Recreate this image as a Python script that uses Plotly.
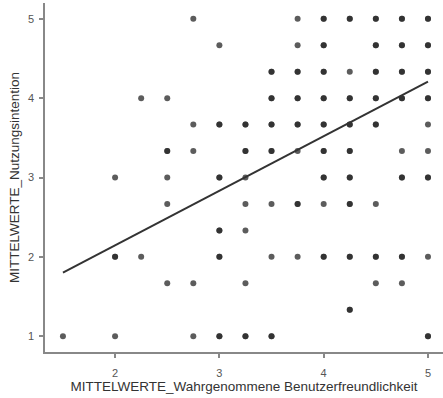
import plotly.graph_objects as go

# Points: (x, y, n) with n = overlapping responses (darker = more)
pt_x = [2.75, 3.75, 4, 4.25, 4.5, 4.75, 5,
        3, 3.75, 4, 4.5, 4.75, 5,
        3.5, 3.75, 4, 4.25, 4.5, 4.75, 5,
        2.25, 2.5, 3.5, 3.75, 4, 4.25, 4.5, 4.75, 5,
        2.75, 3, 3.25, 3.5, 3.75, 4, 4.25, 4.5, 5,
        2.5, 2.75, 3.25, 3.5, 3.75, 4, 4.25, 4.75, 5,
        2, 2.5, 3, 3.25, 4, 4.25, 4.75, 5,
        2.5, 3.25, 3.5, 3.75, 4, 4.25, 4.5,
        3, 3.25,
        2, 2.25, 3, 3.5, 3.75, 4, 4.25, 4.5, 4.75, 5,
        2.5, 2.75, 3.25, 4.5, 4.75,
        4.25,
        1.5, 2, 2.75, 3, 3.25, 3.5, 5]
pt_y = [5] * 7 + [14 / 3] * 6 + [13 / 3] * 7 + [4] * 9 + [11 / 3] * 9 + [10 / 3] * 9 + \
       [3] * 8 + [8 / 3] * 7 + [7 / 3] * 2 + [2] * 10 + [5 / 3] * 5 + [4 / 3] * 1 + [1] * 7
pt_n = [1, 1, 2, 2, 2, 2, 2,
        1, 1, 2, 2, 2, 2,
        2, 2, 2, 1, 2, 2, 2,
        1, 1, 2, 2, 2, 2, 2, 2, 2,
        1, 2, 2, 2, 2, 2, 2, 2, 1,
        2, 1, 2, 2, 1, 2, 2, 1, 1,
        1, 1, 2, 1, 2, 2, 2, 2,
        1, 1, 1, 2, 1, 2, 1,
        2, 1,
        2, 1, 2, 1, 1, 2, 2, 2, 2, 1,
        1, 1, 1, 1, 1,
        2,
        1, 1, 1, 2, 2, 2, 2]

# Regression line endpoints
line_x = [1.5, 5]
line_y = [1.80, 4.21]

x_ticks = [2, 3, 4, 5]
y_ticks = [1, 2, 3, 4, 5]

xs, ys = [], []
for x, y, n in zip(pt_x, pt_y, pt_n):
    xs += [x] * n
    ys += [y] * n

font = "Liberation Sans, Arial, Helvetica, sans-serif"

fig = go.Figure()
fig.add_trace(go.Scatter(x=xs, y=ys, mode="markers",
                         marker=dict(color="#262626", size=6, opacity=0.75, line=dict(width=0)),
                         hoverinfo="skip", showlegend=False))
fig.add_trace(go.Scatter(x=line_x, y=line_y, mode="lines",
                         line=dict(color="#333333", width=2), showlegend=False))

fig.update_layout(
    width=443, height=398,
    margin=dict(l=45, r=0, t=3, b=46),
    plot_bgcolor="white", paper_bgcolor="white",
    font=dict(family=font, color="#333333"),
    xaxis=dict(range=[1.328, 5.144], tickvals=x_ticks, showgrid=False, zeroline=False,
               showline=True, linecolor="#888888", linewidth=1.5,
               ticks="outside", ticklen=4, tickcolor="#888888", tickwidth=1.5,
               ticklabelstandoff=6,
               tickfont=dict(size=11, color="#555555"),
               title=dict(text="MITTELWERTE_Wahrgenommene Benutzerfreundlichkeit",
                          font=dict(size=13.5, color="#333333"), standoff=3)),
    yaxis=dict(range=[0.8, 5.2], tickvals=y_ticks, showgrid=False, zeroline=False,
               showline=True, linecolor="#888888", linewidth=1.5,
               ticks="outside", ticklen=4, tickcolor="#888888", tickwidth=1.5,
               ticklabelstandoff=3,
               tickfont=dict(size=11, color="#555555"),
               title=dict(text="MITTELWERTE_Nutzungsintention",
                          font=dict(size=13.5, color="#333333"), standoff=5)),
)

fig.write_html("out.html")
